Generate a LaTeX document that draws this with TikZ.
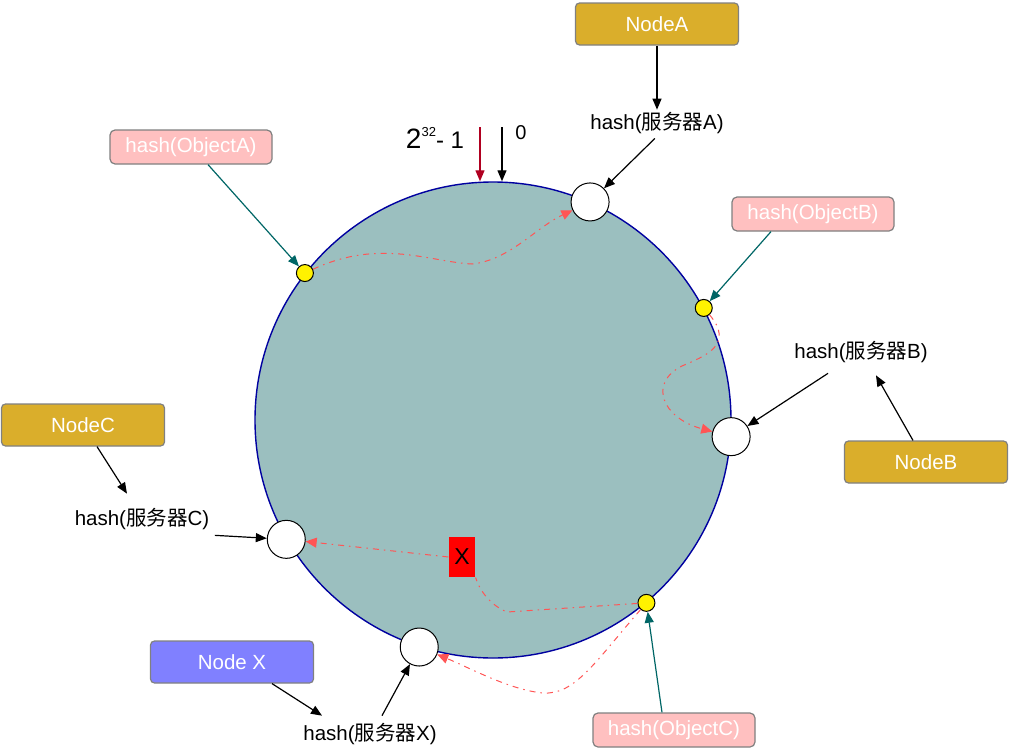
\documentclass[tikz,border=0pt]{standalone}
\usepackage{fontspec}
\setmainfont{Liberation Sans}
\newfontfamily\cjk{Noto Sans CJK SC}
\usetikzlibrary{positioning, arrows.meta}

\definecolor{ringfill}{HTML}{9BBFBF}
\definecolor{ringline}{HTML}{0000A0}
\definecolor{nodegold}{HTML}{DAAE2B}
\definecolor{nodeviolet}{HTML}{8080FF}
\definecolor{objpink}{HTML}{FFC0C0}
\definecolor{objteal}{HTML}{006666}
\definecolor{routered}{HTML}{FF5555}
\definecolor{maxred}{HTML}{B00020}

\tikzset{
    nodebox/.style={draw=gray, rounded corners=4pt, minimum width=163pt,
        minimum height=42pt, text=white, font=\fontsize{20.5}{20.5}\selectfont},
    objbox/.style={draw=gray, fill=objpink, rounded corners=5pt, minimum width=162pt,
        minimum height=34pt, text=white, font=\fontsize{20.5}{20.5}\selectfont},
    server/.style={circle, draw, fill=white, minimum size=38pt, inner sep=0pt, line width=1pt},
    objdot/.style={circle, draw, fill=yellow, minimum size=17pt, inner sep=0pt, line width=1pt},
    hashlabel/.style={font=\fontsize{20.5}{20.5}\selectfont, inner sep=2pt},
    route/.style={routered, line width=1pt, dash pattern=on 6pt off 5pt on 1.5pt off 5pt},
    routetip/.style={route, -{Triangle[length=11pt,width=10pt]}}
}

\newcommand{\srv}[1]{hash({\cjk 服务器}#1)}

\begin{document}
\begin{tikzpicture}[x=1pt, y=-1pt, line width=1.2pt,
    >={Triangle[length=11pt,width=9pt]}]
    \useasboundingbox (0,0) rectangle (1013,755);

    % Hash ring
    \node[circle, draw=ringline, fill=ringfill, line width=1.4pt,
        minimum size=476pt, inner sep=0pt] (ring) at (493,420) {};

    % Servers on the ring
    \node[server] (srvA) at (ring.66.5) {};
    \node[server] (srvB) at (ring.-4.2) {};
    \node[server] (srvC) at (ring.210.7) {};
    \node[server] (srvX) at (ring.252.1) {};

    % Objects on the ring
    \node[objdot] (dotA) at (ring.142.3) {};
    \node[objdot] (dotB) at (ring.28.3) {};
    \node[objdot] (dotC) at (ring.-50.4) {};

    % Removed node
    \node[fill=red, minimum width=26pt, minimum height=40pt, inner sep=0pt,
        font=\fontsize{23}{23}\selectfont] (xbox) at (462,557) {X};

    % Boxes for the nodes
    \node[nodebox, fill=nodegold] (nodeA) at (657,24) {NodeA};
    \node[nodebox, fill=nodegold] (nodeB) at (926,462) {NodeB};
    \node[nodebox, fill=nodegold] (nodeC) at (83,425) {NodeC};
    \node[nodebox, fill=nodeviolet] (nodeX) at (232,662) {Node X};

    % Boxes for the objects
    \node[objbox] (objA) at (191,147) {hash(ObjectA)};
    \node[objbox] (objB) at (813,214) {hash(ObjectB)};
    \node[objbox] (objC) at (674,730) {hash(ObjectC)};

    % Hash labels
    \node[hashlabel] (hashA) at (657,123) {\srv{A}};
    \node[hashlabel] (hashB) at (861,352) {\srv{B}};
    \node[hashlabel] (hashC) at (142,519) {\srv{C}};
    \node[hashlabel] (hashX) at (370,734) {\srv{X}};

    % Start of the ring
    \node[inner sep=0pt] (maxval) at (435,138)
        {{\fontsize{28}{28}\selectfont 2}\raisebox{12pt}{\fontsize{13}{13}\selectfont 32}{\fontsize{24}{24}\selectfont - 1}};
    \node[font=\fontsize{20}{20}\selectfont] (zeroval) at (521,133) {0};
    \coordinate (maxtop) at (480,127);
    \coordinate (zerotop) at (502,127);
    \draw[->, maxred] (maxtop) -- ([xshift=-13pt]ring.north);
    \draw[->] (zerotop) -- ([xshift=9pt]ring.north);

    % Nodes to hash labels to servers
    \draw[->] (nodeA) -- (hashA);
    \draw[->, shorten <=3pt] (hashA.south) -- (srvA);
    \draw[->] ([xshift=-13pt]nodeB.north) -- ([xshift=15pt, yshift=-10pt]hashB.south);
    \draw[->] ([xshift=-33pt, yshift=-8pt]hashB.south) -- (srvB);
    \draw[->] ([xshift=14pt]nodeC.south) -- ([xshift=-15pt, yshift=12pt]hashC.north);
    \draw[->] ([xshift=3pt, yshift=-3pt]hashC.south east) -- (srvC);
    \draw[->] ([xshift=40pt]nodeX.south) -- ([xshift=-48pt, yshift=5pt]hashX.north);
    \draw[->] ([xshift=12pt, yshift=5pt]hashX.north) -- (srvX);

    % Objects to their points
    \draw[->, objteal] ([xshift=17pt]objA.south) -- (dotA);
    \draw[->, objteal] ([xshift=-42pt]objB.south) -- (dotB);
    \draw[->, objteal] ([xshift=-12pt]objC.north) -- (dotC);

    % Routes clockwise to the next server
    \draw[routetip] (dotA) .. controls (380,238) and (430,262) .. (472,264)
        .. controls (510,260) and (535,228) .. (srvA);
    \draw[routetip] (dotB) .. controls (735,345) and (705,356) .. (682,366)
        .. controls (648,383) and (662,418) .. (srvB);
    \draw[route] (dotC) -- (507,612) .. controls (492,606) and (480,592) .. (xbox.south east);
    \draw[routetip] (xbox.west) -- (srvC);
    \draw[routetip] (dotC) .. controls (595,662) and (575,695) .. (543,693)
        .. controls (510,690) and (470,668) .. (srvX);
\end{tikzpicture}
\end{document}
